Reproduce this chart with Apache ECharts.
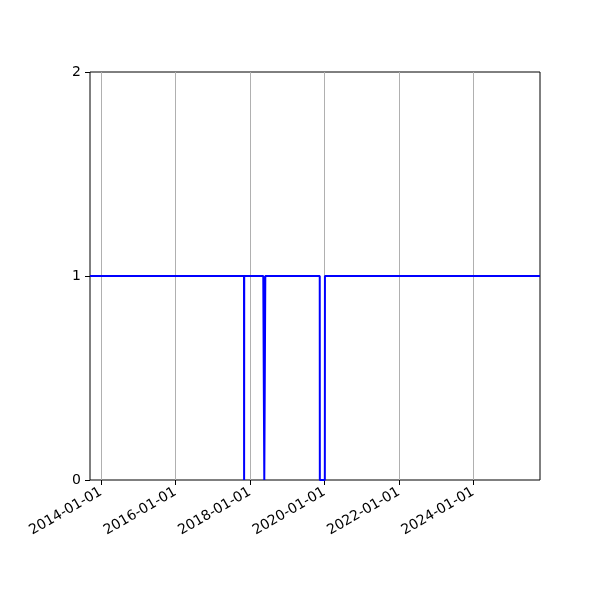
<!DOCTYPE html>
<html>
<head>
<meta charset="utf-8">
<script src="https://cdn.jsdelivr.net/npm/echarts@6/dist/echarts.min.js"></script>
<style>
  html, body { margin: 0; padding: 0; background: #fff; }
  #main { width: 600px; height: 600px; }
</style>
</head>
<body>
<div id="main"></div>
<script>
// status series: 1 = up, 0 = down
const dates = ['2013-09-15', '2017-11-04', '2017-11-05', '2017-11-06',
  '2018-05-12', '2018-05-22', '2018-06-01',
  '2019-11-17', '2019-11-18', '2020-01-06', '2020-01-07', '2025-10-17']
const values = [1, 1, 0, 1,
  1, 0, 1,
  1, 0, 0, 1, 1]
const tickDates = ['2014-01-01', '2016-01-01', '2018-01-01', '2020-01-01', '2022-01-01', '2024-01-01']
const yTicks = [0, 1, 2]

const ts = s => +echarts.time.parse(s)
const pad = n => (n < 10 ? '0' : '') + n
const fmt = v => {
  const d = new Date(v)
  return d.getFullYear() + '-' + pad(d.getMonth() + 1) + '-' + pad(d.getDate())
}

let myChart = echarts.init(document.getElementById('main'))
myChart.setOption({
  animation: false,
  textStyle: { fontFamily: 'DejaVu Sans' },
  grid: {
    left: 90, right: 60, top: 72, bottom: 120,
    show: true, borderColor: '#000', borderWidth: 1, backgroundColor: 'transparent'
  },
  xAxis: {
    type: 'value',
    min: ts(dates[0]),
    max: ts(dates[dates.length - 1]),
    axisLine: { show: false, onZero: false },
    axisTick: { show: true, length: 5, customValues: tickDates.map(ts), lineStyle: { color: '#000' } },
    axisLabel: {
      customValues: tickDates.map(ts),
      rotate: 30, margin: 11,
      color: '#000', fontSize: 14, fontFamily: 'DejaVu Sans',
      formatter: fmt
    },
    splitLine: { show: false }
  },
  yAxis: {
    type: 'value',
    min: yTicks[0], max: yTicks[yTicks.length - 1], interval: 1,
    axisLine: { show: false },
    axisTick: { show: true, length: 5, lineStyle: { color: '#000' } },
    axisLabel: { color: '#000', fontSize: 14, margin: 9, fontFamily: 'DejaVu Sans' },
    splitLine: { show: false }
  },
  series: [{
    // vertical grid lines at the date ticks, kept under the data line
    type: 'line',
    z: 1,
    data: [],
    markLine: {
      z: 1,
      silent: true,
      symbol: 'none',
      label: { show: false },
      lineStyle: { color: '#b0b0b0', type: 'solid', width: 1 },
      data: tickDates.map(d => ({ xAxis: ts(d) }))
    }
  }, {
    type: 'line',
    z: 3,
    data: dates.map((d, i) => [ts(d), values[i]]),
    showSymbol: false,
    lineStyle: { color: '#0000ff', width: 2 },
    itemStyle: { color: '#0000ff' }
  }]
})
</script>
</body>
</html>
